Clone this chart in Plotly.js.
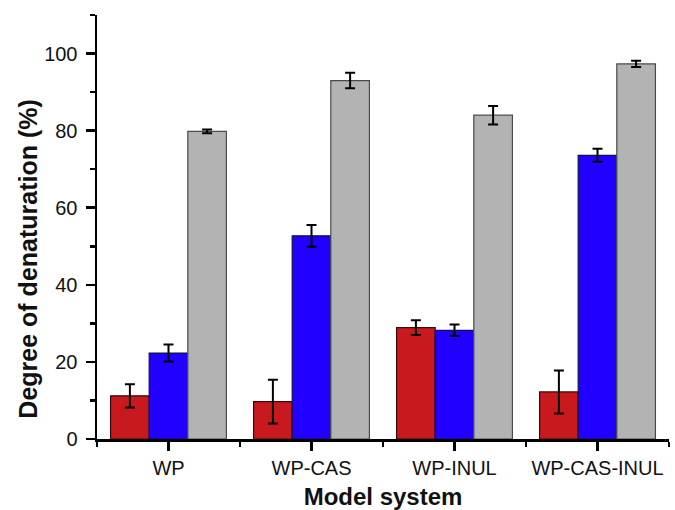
<!DOCTYPE html>
<html>
<head>
<meta charset="utf-8">
<script src="https://cdn.plot.ly/plotly-3.0.1.min.js"></script>
<style>html,body{margin:0;padding:0;background:#fff;}#chart{width:675px;height:510px;}</style>
</head>
<body>
<div id="chart"></div>
<script>
const categories = ["WP", "WP-CAS", "WP-INUL", "WP-CAS-INUL"];
const redValues = [11.2, 9.7, 28.9, 12.2];
const redErrors = [3.0, 5.7, 1.9, 5.6];
const blueValues = [22.3, 52.7, 28.2, 73.6];
const blueErrors = [2.2, 2.8, 1.5, 1.7];
const grayValues = [79.8, 93.0, 84.0, 97.3];
const grayErrors = [0.5, 2.0, 2.4, 0.8];

const xIdx = categories.map((c, i) => i);
const boundaries = categories.map((c, i) => i + 0.5).concat([-0.5]);

function series(vals, errs, fill, line) {
  return {
    type: 'bar', x: xIdx, y: vals,
    marker: {color: fill, line: {color: line, width: 1.2}},
    error_y: {type: 'data', array: errs, visible: true, color: '#000', thickness: 2, width: 5},
    showlegend: false, hoverinfo: 'none'
  };
}

const data = [
  series(redValues, redErrors, '#c8191e', '#3a0a0a'),
  series(blueValues, blueErrors, '#2200ff', '#10104a'),
  series(grayValues, grayErrors, '#b3b3b3', '#4a4a4a')
];

const layout = {
  width: 675, height: 510,
  margin: {l: 97, r: 6, t: 15, b: 71},
  paper_bgcolor: '#fff', plot_bgcolor: '#fff',
  barmode: 'group', bargap: 0.19, bargroupgap: 0,
  font: {family: 'Liberation Sans, Arial, sans-serif', color: '#111'},
  xaxis: {
    range: [-0.5, 3.5], tickmode: 'array', tickvals: xIdx, ticktext: categories,
    ticks: 'outside', ticklen: 9, tickwidth: 2.5, tickcolor: '#000',
    showline: true, linewidth: 2.5, linecolor: '#000', showgrid: false, zeroline: false,
    tickfont: {size: 20, color: '#111'},
    minor: {tickmode: 'array', tickvals: boundaries, ticks: 'outside', ticklen: 5, tickwidth: 2.5, tickcolor: '#000', showgrid: false},
    title: {text: '<b>Model system</b>', font: {size: 24, color: '#111'}, standoff: 29},
    fixedrange: true
  },
  yaxis: {
    range: [0, 110], tickmode: 'linear', tick0: 0, dtick: 20,
    ticks: 'outside', ticklen: 9, tickwidth: 2.5, tickcolor: '#000',
    showline: true, linewidth: 2.5, linecolor: '#000', showgrid: false, zeroline: false,
    tickfont: {size: 20, color: '#111'}, ticklabelstandoff: 4,
    minor: {tick0: 0, dtick: 10, ticks: 'outside', ticklen: 5, tickwidth: 2.5, tickcolor: '#000', showgrid: false},
    fixedrange: true
  },
  annotations: [{
    text: '<b>Degree of denaturation (%)</b>', textangle: -90,
    xref: 'paper', yref: 'paper', x: 0, y: 0.423, xshift: -69,
    xanchor: 'center', yanchor: 'middle', showarrow: false,
    font: {size: 25, color: '#111', family: 'Liberation Sans, Arial, sans-serif'}
  }]
};

Plotly.newPlot('chart', data, layout, {staticPlot: true, displayModeBar: false});
</script>
</body>
</html>
